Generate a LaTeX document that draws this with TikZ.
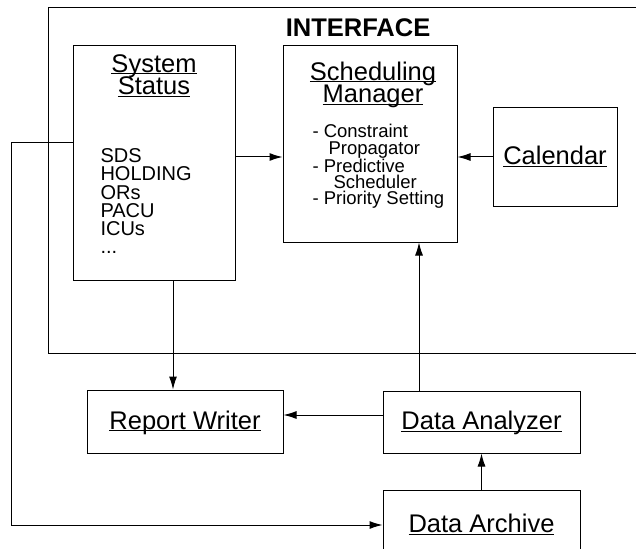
\documentclass[tikz,border=0pt]{standalone}
\usepackage{fontspec}
\setmainfont{Liberation Sans}
\usetikzlibrary{arrows.meta}
\newcommand{\titlefont}{\fontsize{25.5}{22.5}\selectfont}
\newcommand{\listfont}{\fontsize{20}{18.3}\selectfont}
\newcommand{\taskfont}{\fontsize{18.5}{16.2}\selectfont}
\tikzstyle{module}=[draw, rectangle, inner sep=0pt, font=\titlefont]
\tikzstyle{caption}=[inner sep=0pt, align=center, font=\titlefont]
\tikzstyle{itemlist}=[inner sep=0pt, align=left]
\newcommand{\module}{\node[module]}
\newcommand{\undl}[1]{\underline{\smash{#1}}\vphantom{A}}

\begin{document}
\begin{tikzpicture}[x=1pt, y=-1pt, line width=1pt,
	>={Latex[length=13pt, width=8pt]}
	]
	\useasboundingbox (0,0) rectangle (636,548);
	% interface frame, open to the right
	\draw (650,8) -- (48,8) -- (48,353) -- (650,353);
	\node[font=\bfseries\titlefont, inner sep=0pt, anchor=north] (iface) at (358,18) {INTERFACE};

	\module[minimum width=162, minimum height=234] (sysstat) at (154,163) {};
	\node[caption, anchor=north] (sysstattitle) at (154,54) {\undl{System}\\\undl{Status}};
	\node[itemlist, font=\listfont, anchor=north west] (sysstatlist) at (100,148) {SDS\\HOLDING\\ORs\\PACU\\ICUs\\...};

	\module[minimum width=174, minimum height=196] (schedmgr) at (370,144) {};
	\node[caption, anchor=north] (schedmgrtitle) at (373,62) {\undl{Scheduling}\\\undl{Manager}};
	\node[itemlist, font=\taskfont, anchor=north west] (schedmgrlist) at (312,124)
		{- Constraint\\\hspace*{16pt}Propagator\\- Predictive\\\hspace*{21pt}Scheduler\\- Priority Setting};

	\module[minimum width=124, minimum height=98] (calendar) at (555,157) {\undl{Calendar}};
	\module[minimum width=196, minimum height=63] (reportw) at (185,421.5) {\undl{Report Writer}};
	\module[minimum width=197, minimum height=62] (analyzer) at (481.5,422) {\undl{Data Analyzer}};
	\module[minimum width=197, minimum height=70] (archive) at (481.5,525) {\undl{Data Archive}};

	\draw[->] (sysstat.east |- calendar.west) -- (schedmgr.west |- calendar.west);
	\draw[->] (calendar.west) -- (schedmgr.east |- calendar.west);
	\draw[->] ([xshift=19pt]sysstat.south) -- ([xshift=19pt]sysstat.south |- reportw.north);
	\draw[->] ([yshift=7pt]analyzer.west) -- ([yshift=7pt]analyzer.west -| reportw.east);
	\draw[->] ([xshift=-62.5pt]analyzer.north) -- ([xshift=-62.5pt]analyzer.north |- schedmgr.south);
	\draw[->] (archive.north) -- (analyzer.south);
	\draw[->] ([yshift=20pt]sysstat.west) -- ++(-61,0) |- (archive.west);
\end{tikzpicture}
\end{document}
